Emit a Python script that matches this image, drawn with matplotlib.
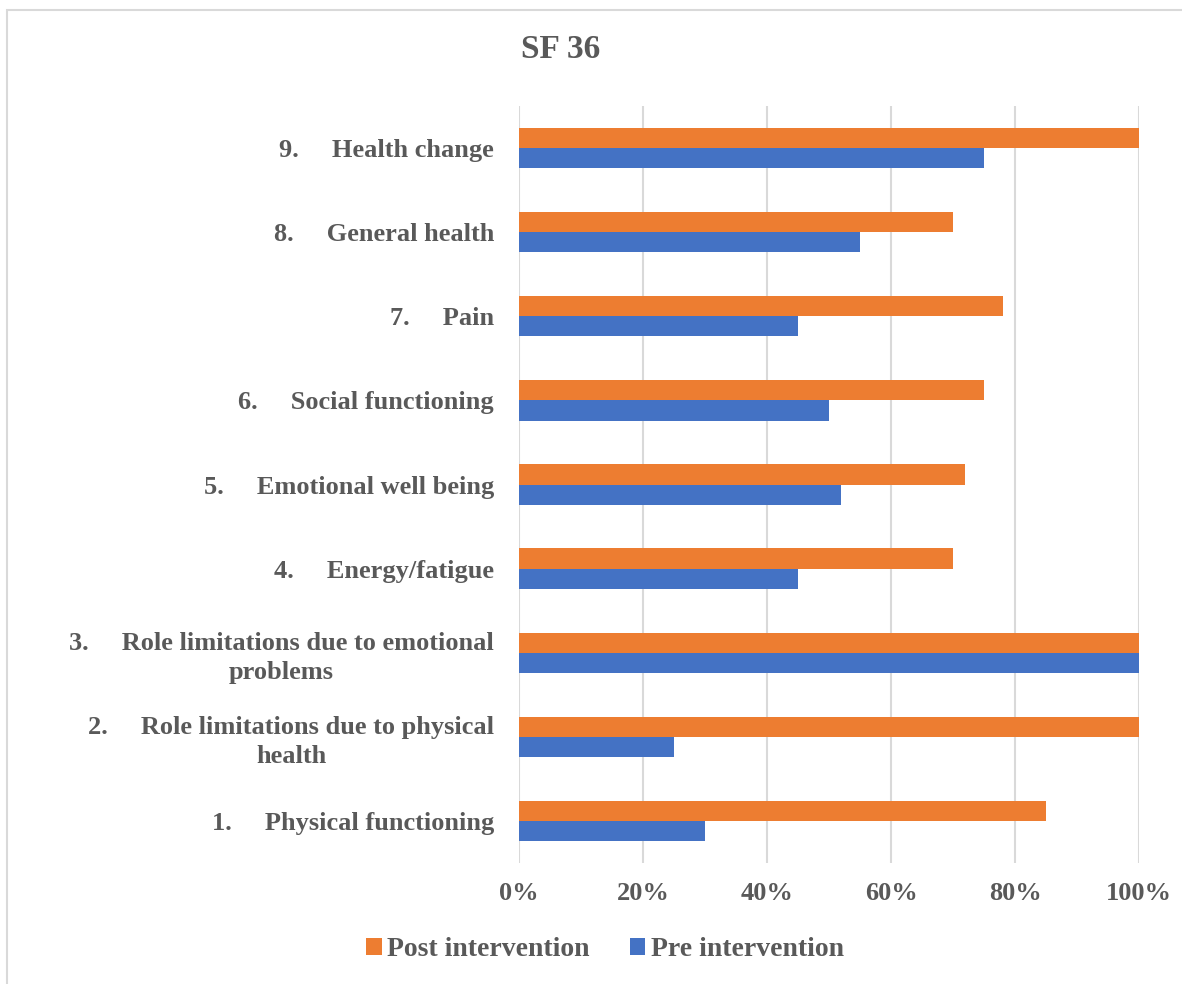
import numpy as np
import matplotlib.pyplot as plt
from matplotlib.patches import Rectangle

plt.rcParams['font.family'] = ['Liberation Serif', 'DejaVu Serif']

# SF-36 domains, bottom to top
domains = ["Physical functioning",
           "Role limitations due to physical\nhealth",
           "Role limitations due to emotional\nproblems",
           "Energy/fatigue",
           "Emotional well being",
           "Social functioning",
           "Pain",
           "General health",
           "Health change"]
post = [85, 100, 100, 70, 72, 75, 78, 70, 100]
pre = [30, 25, 100, 45, 52, 50, 45, 55, 75]
xticks = [0, 20, 40, 60, 80, 100]

orange = "#ED7D31"
blue = "#4472C4"
grey_txt = "#595959"

labels = []
for i, d in enumerate(domains):
    labels.append(f"{i + 1}." + " " * 5 + d)

fig = plt.figure(figsize=(11.82, 9.84), dpi=100)
ax = fig.add_axes([519 / 1182, 1 - 863 / 984, 620 / 1182, 757 / 984])

y = np.arange(len(domains))
h = 0.24
ax.barh(y + h / 2, post, height=h, color=orange, label="Post intervention", zorder=3)
ax.barh(y - h / 2, pre, height=h, color=blue, label="Pre intervention", zorder=3)

ax.set_xlim(0, 100)
ax.set_ylim(-0.5, len(domains) - 0.5)
ax.set_xticks(xticks)
ax.set_xticklabels([f"{t}%" for t in xticks], fontsize=19, fontweight="bold", color=grey_txt)
ax.set_yticks(y)
ax.set_yticklabels(labels, fontsize=19, fontweight="bold", color=grey_txt,
                   multialignment="center", linespacing=1.3)
ax.tick_params(axis="both", length=0)
ax.tick_params(axis="x", pad=14)
ax.tick_params(axis="y", pad=18)
ax.grid(axis="x", color="#D9D9D9", linewidth=1.5, zorder=0)
for s in ax.spines.values():
    s.set_visible(False)

fig.text(561 / 1182, 1 - 50 / 984, "SF 36", ha="center", va="center",
         fontsize=24, fontweight="bold", color=grey_txt)

handles, labs = ax.get_legend_handles_labels()
leg = fig.legend(handles, labs, loc="center", bbox_to_anchor=(605 / 1182, 1 - 950 / 984),
                 ncol=2, frameon=False, handlelength=0.55, handleheight=0.55,
                 handletextpad=0.2, columnspacing=1.45,
                 prop={"size": 20, "weight": "bold"})
for t in leg.get_texts():
    t.set_color(grey_txt)

# chart border (only left/top visible in the crop)
fig.patches.append(Rectangle((7 / 1182, -0.1), 1.2, 1 - 10 / 984 + 0.1,
                             transform=fig.transFigure, fill=False,
                             edgecolor="#D9D9D9", linewidth=1.5))

fig.savefig("out.png", dpi=100, facecolor="white")
